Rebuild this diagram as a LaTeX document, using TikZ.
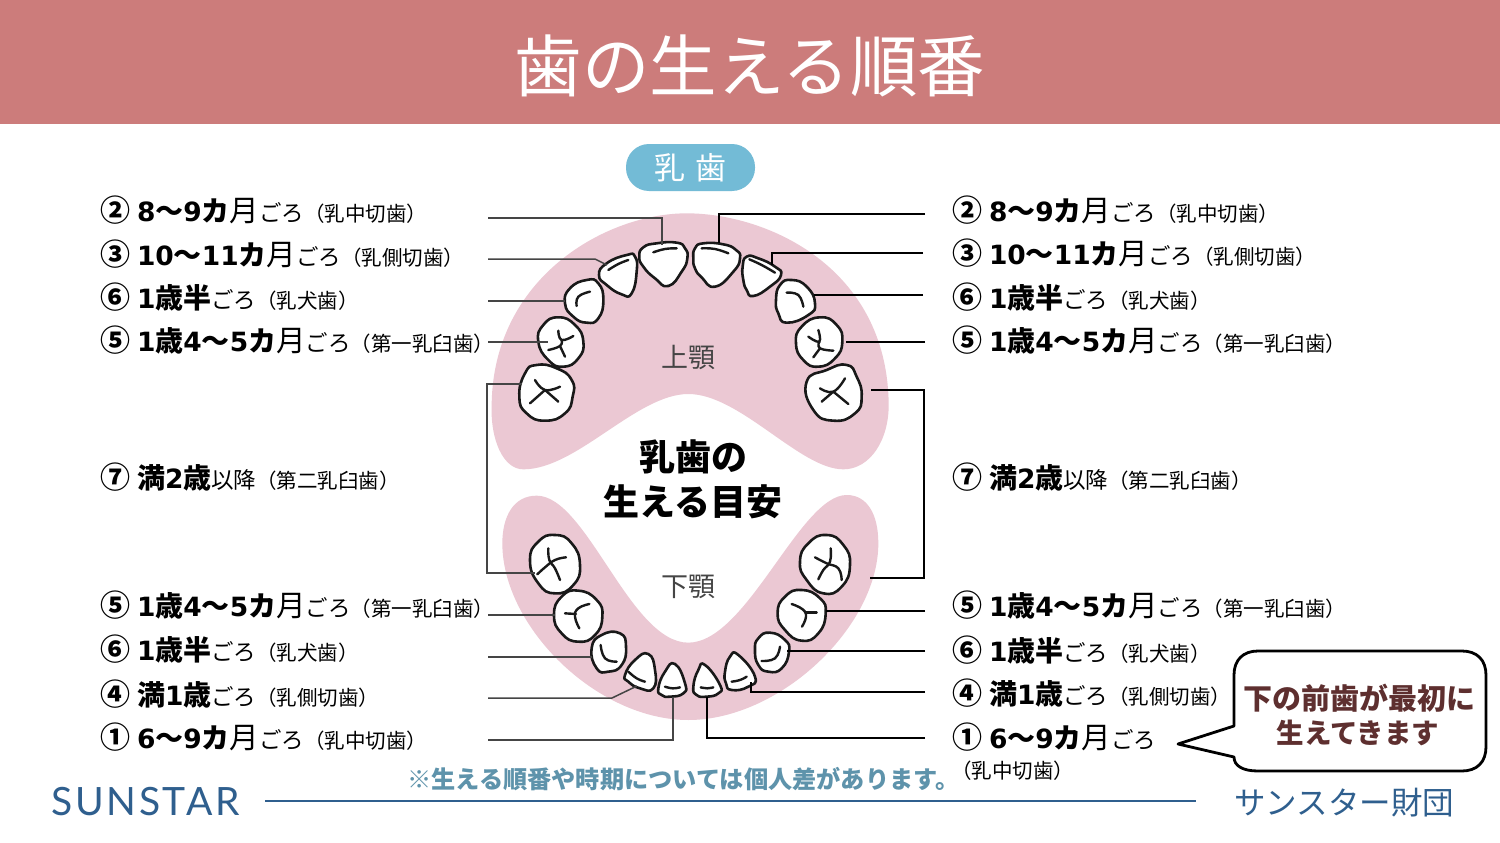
\documentclass[tikz,border=0pt]{standalone}
\usepackage{fontspec}
\setmainfont{Noto Sans CJK JP}
\newfontfamily\latinbold{DejaVu Sans Bold}
\newfontfamily\logofont[LetterSpace=7]{Lato}
\definecolor{band}{HTML}{CC7C7B}
\definecolor{gum}{HTML}{EBC8D3}
\definecolor{badge}{HTML}{73BBD6}
\definecolor{notecol}{HTML}{5E93AB}
\definecolor{navy}{HTML}{2F5F8E}
\definecolor{callout}{HTML}{5E2F2F}
\definecolor{leftline}{HTML}{454545}
\newcommand\cir[1]{{\fontsize{30}{30}\selectfont\bfseries #1}\hspace{7pt}}
\newcommand\dg[1]{{\fontsize{26.5}{26.5}\selectfont\latinbold #1}}
\newcommand\bo[1]{{\fontsize{28}{28}\selectfont\bfseries #1}}
\newcommand\tuki{{\fontsize{29.5}{29.5}\selectfont 月}}
\newcommand\goro{{\fontsize{22.5}{22.5}\selectfont ごろ}}
\newcommand\kak[1]{{\fontsize{20.5}{20.5}\selectfont #1}}
\newcommand\rowA{\cir{②}\dg{8}\bo{～}\dg{9}\bo{カ}\tuki\goro\kak{（乳中切歯）}}
\newcommand\rowB{\cir{③}\dg{10}\bo{～}\dg{11}\bo{カ}\tuki\goro\kak{（乳側切歯）}}
\newcommand\rowC{\cir{⑥}\dg{1}\bo{歳半}\goro\kak{（乳犬歯）}}
\newcommand\rowD{\cir{⑤}\dg{1}\bo{歳}\dg{4}\bo{～}\dg{5}\bo{カ}\tuki\goro\kak{（第一乳臼歯）}}
\newcommand\rowE{\cir{⑦}\bo{満}\dg{2}\bo{歳}{\fontsize{22.5}{22.5}\selectfont 以降}\kak{（第二乳臼歯）}}
\newcommand\rowF{\cir{④}\bo{満}\dg{1}\bo{歳}\goro\kak{（乳側切歯）}}
\newcommand\rowG{\cir{①}\dg{6}\bo{～}\dg{9}\bo{カ}\tuki\goro}
\tikzset{
  x=1pt,y=-1pt,
  lab/.style={anchor=base west,inner sep=0pt,outer sep=0pt,text=black},
  toothshape/.style={draw=black!90,fill=white,line width=2.6pt,line join=round},
  groove/.style={draw=black!90,line width=2.4pt,line cap=round},
  gumshape/.style={fill=gum,draw=none},
  leadl/.style={draw=leftline,line width=1.5pt},
  leadr/.style={draw=black,line width=1.8pt},
}
\newcommand\tooth[1]{\draw[toothshape] plot[smooth cycle,tension=0.9] coordinates {#1};}
\newcommand\grv[1]{\draw[groove] plot[smooth,tension=0.8] coordinates {#1};}
\begin{document}
\begin{tikzpicture}
\useasboundingbox (0,0) rectangle (1500,843);
\fill[white] (0,0) rectangle (1500,843);
\fill[band] (0,0) rectangle (1500,124);
\node[text=white,inner sep=0pt] (title) at (750,66) {\fontsize{67.5}{67.5}\selectfont 歯の生える順番};
\node[fill=badge,rounded corners=23pt,minimum width=129pt,minimum height=47pt,inner sep=0pt,text=white] (badge) at (690.5,167.5) {\fontsize{31}{31}\selectfont 乳\hspace{11pt}歯};

% upper jaw
\begin{scope}[shift={(480,200)},x=0.33333pt,y=-0.33333pt]
\fill[gumshape] (620,40) .. controls (860,40) and (1220,200) .. (1226,610) .. controls (1228,720) and (1170,808) .. (1090,808) .. controls (960,808) and (780,582) .. (625,582) .. controls (470,582) and (290,808) .. (130,808) .. controls (70,808) and (30,720) .. (35,610) .. controls (42,230) and (380,40) .. (620,40) -- cycle;
\tooth{(478,170)(490,142)(530,130)(590,128)(615,145)(622,175)(605,215)(565,258)(525,235)(490,200)}
\tooth{(640,175)(645,145)(670,130)(730,133)(768,150)(780,175)(760,215)(705,260)(665,232)(645,205)}
\tooth{(357,225)(380,190)(440,165)(465,170)(470,215)(455,280)(425,283)(380,255)}
\tooth{(788,200)(800,170)(835,175)(885,200)(903,225)(870,260)(820,288)(800,270)(790,240)}
\tooth{(255,310)(270,265)(320,240)(355,250)(370,300)(355,355)(320,368)(280,350)}
\tooth{(888,300)(900,255)(935,240)(980,260)(1005,310)(985,345)(920,368)(895,340)}
\tooth{(175,425)(190,375)(235,352)(285,375)(310,425)(295,475)(250,500)(205,480)}
\tooth{(948,430)(965,380)(1020,352)(1070,375)(1087,425)(1065,475)(1015,500)(970,480)}
\tooth{(118,590)(135,520)(170,495)(230,505)(275,540)(278,590)(255,640)(195,662)(140,640)}
\tooth{(980,545)(1040,510)(1100,495)(1130,530)(1145,590)(1125,640)(1060,662)(1000,630)}
\grv{(520,157)(555,147)(590,145)}
\grv{(665,145)(705,147)(745,160)}
\grv{(385,210)(415,192)(445,180)}
\grv{(808,178)(845,195)(885,218)}
\grv{(290,318)(295,290)(330,275)}
\grv{(920,278)(955,285)(970,320)}
\grv{(235,392)(245,420)(280,408)}
\grv{(245,420)(240,438)(205,450)}
\grv{(240,438)(255,470)}
\grv{(985,410)(1018,425)(1015,390)}
\grv{(1018,425)(1020,445)(1060,452)}
\grv{(1020,445)(1000,472)}
\grv{(165,540)(195,570)(240,560)}
\grv{(195,570)(150,610)}
\grv{(195,570)(235,605)}
\grv{(1020,565)(1060,575)(1095,535)}
\grv{(1060,575)(1025,605)}
\grv{(1060,575)(1105,612)}
\end{scope}

% lower jaw
\begin{scope}[shift={(480,480)},x=0.33333pt,y=-0.33333pt]
\fill[gumshape] (170,47) .. controls (100,47) and (67,110) .. (67,190) .. controls (67,440) and (350,720) .. (625,720) .. controls (900,720) and (1195,440) .. (1195,190) .. controls (1195,100) and (1160,45) .. (1100,45) .. controls (960,45) and (800,488) .. (625,488) .. controls (450,488) and (320,47) .. (170,47) -- cycle;
\tooth{(150,240)(175,185)(225,165)(275,190)(300,255)(280,315)(225,340)(175,310)}
\tooth{(960,245)(985,190)(1040,165)(1090,195)(1110,255)(1085,320)(1030,340)(980,300)}
\tooth{(222,405)(245,350)(295,332)(350,360)(367,410)(345,465)(295,485)(245,460)}
\tooth{(893,400)(915,350)(965,330)(1020,355)(1037,400)(1015,460)(965,482)(915,450)}
\tooth{(335,505)(365,465)(420,460)(438,500)(425,555)(385,575)(350,565)}
\tooth{(825,510)(835,475)(870,458)(915,480)(927,515)(905,565)(865,575)(835,555)}
\tooth{(435,585)(465,540)(505,522)(525,570)(520,625)(480,625)(445,605)}
\tooth{(735,575)(750,530)(775,525)(825,590)(805,620)(755,630)(738,610)}
\tooth{(535,625)(555,575)(585,552)(615,610)(610,640)(570,650)(545,645)}
\tooth{(640,620)(655,570)(675,555)(720,615)(715,640)(680,650)(650,645)}
\grv{(258,232)(225,240)(195,262)(172,283)}
\grv{(205,205)(208,240)(225,265)(240,300)}
\grv{(1005,232)(1040,250)(1075,265)(1085,300)}
\grv{(1052,205)(1050,245)(1030,270)(1015,298)}
\grv{(328,372)(295,385)(285,410)(298,445)}
\grv{(255,400)(288,402)}
\grv{(935,372)(968,388)(978,410)(966,440)}
\grv{(975,398)(1010,398)}
\grv{(362,495)(375,535)(410,545)}
\grv{(845,543)(885,535)(900,500)}
\grv{(445,575)(470,595)(495,605)}
\grv{(755,605)(780,600)(800,590)}
\grv{(555,620)(578,625)(600,622)}
\grv{(662,622)(682,625)(700,622)}
\end{scope}

% jaw and centre labels
\node[text=leftline,inner sep=0pt] (upper) at (688,357) {\fontsize{27}{27}\selectfont 上顎};
\node[text=leftline,inner sep=0pt] (lower) at (688,587) {\fontsize{27}{27}\selectfont 下顎};
\node[inner sep=0pt] (ca) at (693,457) {\fontsize{36}{36}\selectfont\bfseries 乳歯の};
\node[inner sep=0pt] (cb) at (693,502) {\fontsize{36}{36}\selectfont\bfseries 生える目安};

% left labels
\node[lab] (l1) at (100,221) {\rowA};
\node[lab] (l2) at (100,265) {\rowB};
\node[lab] (l3) at (100,308) {\rowC};
\node[lab] (l4) at (100,351) {\rowD};
\node[lab] (l5) at (100,488) {\rowE};
\node[lab] (l6) at (100,616) {\rowD};
\node[lab] (l7) at (100,660) {\rowC};
\node[lab] (l8) at (100,705) {\rowF};
\node[lab] (l9) at (100,748) {\rowG\kak{（乳中切歯）}};
% right labels
\node[lab] (r1) at (952,221) {\rowA};
\node[lab] (r2) at (952,264) {\rowB};
\node[lab] (r3) at (952,308) {\rowC};
\node[lab] (r4) at (952,351) {\rowD};
\node[lab] (r5) at (952,488) {\rowE};
\node[lab] (r6) at (952,616) {\rowD};
\node[lab] (r7) at (952,661) {\rowC};
\node[lab] (r8) at (952,704) {\rowF};
\node[lab] (r9) at (952,748) {\rowG};
\node[lab] (r9b) at (951,778) {\kak{（乳中切歯）}};

% leader coordinates
\coordinate (la1) at (488,218); \coordinate (ta1) at (662,245);
\coordinate (la2) at (488,259); \coordinate (ta2) at (607,265);
\coordinate (la3) at (488,301); \coordinate (ta3) at (565,301);
\coordinate (la4) at (488,342); \coordinate (ta4) at (548,342);
\coordinate (la5) at (522,384); \coordinate (ta5) at (535,573);
\coordinate (la6) at (488,615); \coordinate (ta6) at (555,615);
\coordinate (la7) at (488,657); \coordinate (ta7) at (592,657);
\coordinate (la8) at (488,698); \coordinate (ta8) at (637,686);
\coordinate (la9) at (488,740); \coordinate (ta9) at (673,697);
\coordinate (ra1) at (925,214); \coordinate (tb1) at (719,243);
\coordinate (ra2) at (923,253); \coordinate (tb2) at (772,265);
\coordinate (ra3) at (923,295); \coordinate (tb3) at (814,295);
\coordinate (ra4) at (925,342); \coordinate (tb4) at (846,342);
\coordinate (ra5) at (871,390); \coordinate (tb5) at (870,578);
\coordinate (ra6) at (925,611); \coordinate (tb6) at (826,611);
\coordinate (ra7) at (925,651); \coordinate (tb7) at (787,651);
\coordinate (ra8) at (925,692); \coordinate (tb8) at (751,682);
\coordinate (ra9) at (925,738); \coordinate (tb9) at (707,697);

\draw[leadl] (la1) -| (ta1);
\draw[leadl] (la2) -- (595,259) -- (ta2);
\draw[leadl] (la3) -- (ta3);
\draw[leadl] (la4) -- (ta4);
\draw[leadl] (la5) -- (487,384) -- (487,573) -- (ta5);
\draw[leadl] (la6) -- (ta6);
\draw[leadl] (la7) -- (ta7);
\draw[leadl] (la8) -- (612,698) -- (ta8);
\draw[leadl] (la9) -| (ta9);
\draw[leadr] (ra1) -| (tb1);
\draw[leadr] (ra2) -| (tb2);
\draw[leadr] (ra3) -- (tb3);
\draw[leadr] (ra4) -- (tb4);
\draw[leadr] (ra5) -- (924,390) -- (924,578) -- (tb5);
\draw[leadr] (ra6) -- (tb6);
\draw[leadr] (ra7) -- (tb7);
\draw[leadr] (ra8) -| (tb8);
\draw[leadr] (ra9) -| (tb9);

% callout
\draw[fill=white,draw=black,line width=2.8pt,line join=round]
  (1234,726) -- (1234,675) .. controls (1234,660) and (1243,651) .. (1258,651)
  -- (1462,651) .. controls (1477,651) and (1486,660) .. (1486,675)
  -- (1486,747) .. controls (1486,762) and (1477,771) .. (1462,771)
  -- (1258,771) .. controls (1243,771) and (1234,766) .. (1234,757)
  -- (1178,744) -- cycle;
\node[text=callout,inner sep=0pt] (ct1) at (1359.5,698) {\fontsize{29}{29}\selectfont\bfseries 下の前歯が最初に};
\node[text=callout,inner sep=0pt] (ct2) at (1358,733) {\fontsize{27.5}{27.5}\selectfont\bfseries 生えてきます};

% footer
\node[text=notecol,inner sep=0pt,anchor=west] (note) at (407,779) {\fontsize{24.2}{24.2}\selectfont\bfseries ※生える順番や時期については個人差があります。};
\draw[navy,line width=1.9pt] (265,801) -- (1196,801);
\node[text=navy,inner sep=0pt,anchor=base west] (logo) at (51,815) {\fontsize{39}{39}\selectfont\logofont SUNSTAR};
\node[text=navy,inner sep=0pt,anchor=west] (found) at (1234,803) {\fontsize{31.5}{31.5}\selectfont サンスター財団};
\end{tikzpicture}
\end{document}
